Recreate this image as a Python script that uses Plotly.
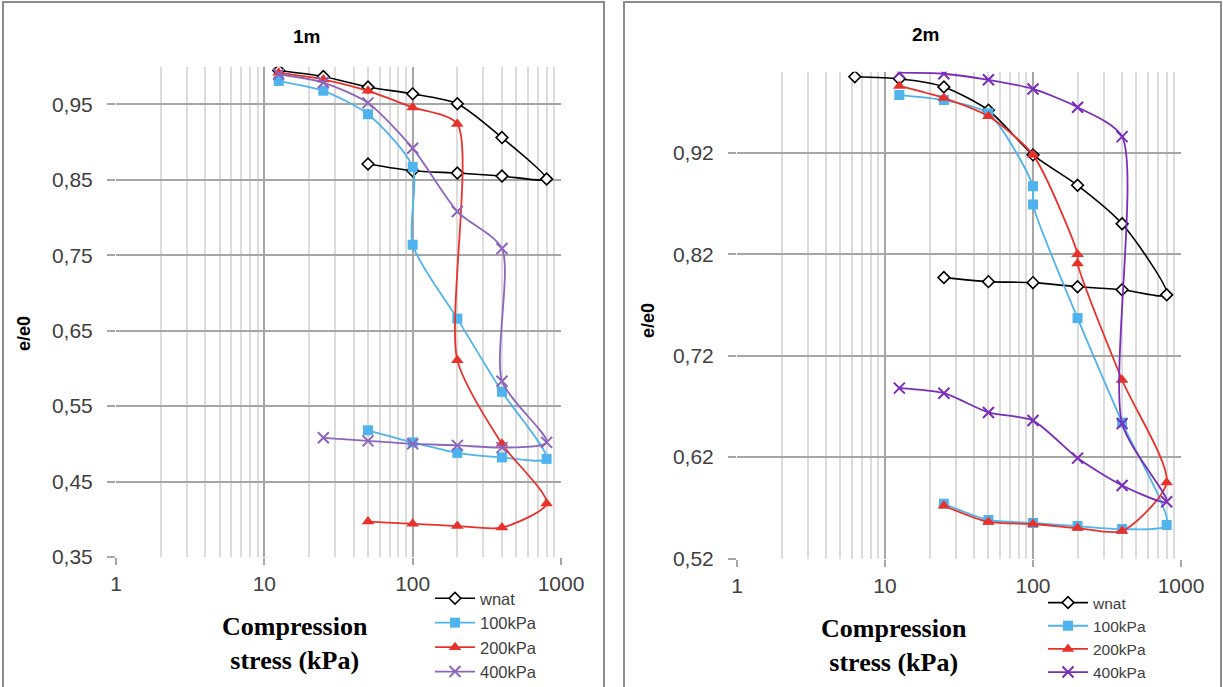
import plotly.graph_objects as go

# ---------------- data ----------------
# 1m panel
stress_wnat_1m = [12.5, 25, 50, 100, 200, 400, 800, 400, 200, 100, 50]
e_wnat_1m = [0.995, 0.987, 0.973, 0.964, 0.951, 0.906, 0.851, 0.855, 0.859, 0.862, 0.871]

stress_100_1m = [12.5, 25, 50, 100, 100, 200, 400, 800, 400, 200, 100, 50]
e_100_1m = [0.981, 0.968, 0.937, 0.867, 0.764, 0.666, 0.569, 0.480, 0.482, 0.488, 0.502, 0.518]

stress_200_1m = [12.5, 25, 50, 100, 200, 200, 400, 800, 400, 200, 100, 50]
e_200_1m = [0.992, 0.983, 0.968, 0.946, 0.924, 0.611, 0.500, 0.421, 0.389, 0.391, 0.394, 0.397]

stress_400_1m = [12.5, 25, 50, 100, 200, 400, 400, 800, 400, 200, 100, 50, 25]
e_400_1m = [0.990, 0.979, 0.952, 0.892, 0.808, 0.759, 0.583, 0.502, 0.495, 0.498, 0.500, 0.504, 0.508]

# 2m panel
stress_wnat_2m = [6.25, 12.5, 25, 50, 100, 200, 400, 800, 400, 200, 100, 50, 25]
e_wnat_2m = [0.995, 0.993, 0.985, 0.962, 0.918, 0.888, 0.850, 0.780, 0.785, 0.788, 0.792, 0.793, 0.797]

stress_100_2m = [12.5, 25, 50, 100, 100, 200, 400, 800, 400, 200, 100, 50, 25]
e_100_2m = [0.977, 0.972, 0.959, 0.887, 0.869, 0.757, 0.654, 0.553, 0.549, 0.552, 0.555, 0.558, 0.574]

stress_200_2m = [12.5, 25, 50, 100, 200, 200, 400, 800, 400, 200, 100, 50, 25]
e_200_2m = [0.986, 0.974, 0.956, 0.918, 0.820, 0.811, 0.696, 0.595, 0.547, 0.550, 0.554, 0.556, 0.572]

stress_400_2m = [12.5, 25, 50, 100, 200, 400, 400, 800, 400, 200, 100, 50, 25, 12.5]
e_400_2m = [0.999, 0.998, 0.992, 0.983, 0.965, 0.936, 0.653, 0.576, 0.592, 0.619, 0.656, 0.664, 0.683, 0.688]

series_names = ["wnat", "100kPa", "200kPa", "400kPa"]
panel_titles = ["1m", "2m"]
x_tickvals = [1, 10, 100, 1000]
x_ticktext = ["1", "10", "100", "1000"]
y_tickvals_1m = [0.35, 0.45, 0.55, 0.65, 0.75, 0.85, 0.95]
y_ticktext_1m = ["0,35", "0,45", "0,55", "0,65", "0,75", "0,85", "0,95"]
y_tickvals_2m = [0.52, 0.62, 0.72, 0.82, 0.92]
y_ticktext_2m = ["0,52", "0,62", "0,72", "0,82", "0,92"]
y_title = "e/e0"
x_title = "Compression<br>stress (kPa)"

# ---------------- layout helpers ----------------
W, H = 1223, 687
def px(x):
    return x / W
def py(y):
    return 1 - y / H

SANS = "Liberation Sans, Arial, sans-serif"
SERIF = "Liberation Serif, Times New Roman, serif"
BLACK = "#000000"
BLUE = "#4FB3EE"
RED = "#E8312A"
PURPLE_1 = "#8C66BC"
PURPLE_2 = "#7A2DB8"

def styles(purple):
    return [
        dict(line=dict(color=BLACK, width=1.6),
             marker=dict(symbol="diamond", size=9, color="white", line=dict(color=BLACK, width=1.6))),
        dict(line=dict(color=BLUE, width=1.8),
             marker=dict(symbol="square", size=10, color=BLUE, line=dict(width=0))),
        dict(line=dict(color=RED, width=1.8),
             marker=dict(symbol="triangle-up", size=11, color=RED, line=dict(width=0))),
        dict(line=dict(color=purple, width=1.8),
             marker=dict(symbol="x-thin", size=11, color=purple, line=dict(color=purple, width=2))),
    ]

fig = go.Figure()

panels = [
    ("x", "y", "legend", [(stress_wnat_1m, e_wnat_1m), (stress_100_1m, e_100_1m),
                          (stress_200_1m, e_200_1m), (stress_400_1m, e_400_1m)], PURPLE_1),
    ("x2", "y2", "legend2", [(stress_wnat_2m, e_wnat_2m), (stress_100_2m, e_100_2m),
                             (stress_200_2m, e_200_2m), (stress_400_2m, e_400_2m)], PURPLE_2),
]

for xa, ya, lg, data, purple in panels:
    for name, (xs, ys), st in zip(series_names, data, styles(purple)):
        fig.add_trace(go.Scatter(
            x=xs, y=ys, name=name, mode="lines+markers",
            line=dict(shape="spline", smoothing=0.7, **st["line"]),
            marker=st["marker"], xaxis=xa, yaxis=ya, legend=lg,
        ))

GRID_MAJOR = "#A6A6A6"
GRID_MINOR = "#DCDCDC"
TICKFONT = dict(family=SANS, size=21, color="#404040")

def xaxis_cfg(domain, anchor):
    return dict(
        type="log", range=[0, 3], domain=domain, anchor=anchor, automargin=False,
        tickvals=x_tickvals, ticktext=x_ticktext, tickfont=TICKFONT,
        showgrid=True, gridcolor=GRID_MAJOR, gridwidth=1.5,
        minor=dict(dtick="D1", showgrid=True, gridcolor=GRID_MINOR, gridwidth=1.5, ticks=""),
        ticks="outside", ticklen=7, tickcolor=GRID_MAJOR, tickwidth=1.5,
        showline=False, zeroline=False, ticklabelstandoff=1,
    )

def yaxis_cfg(domain, anchor, rng, tv, tt):
    return dict(
        range=rng, domain=domain, anchor=anchor, automargin=False,
        tickvals=tv, ticktext=tt, tickfont=TICKFONT,
        showgrid=True, gridcolor=GRID_MAJOR, gridwidth=1.5,
        ticks="outside", ticklen=8, tickcolor=GRID_MAJOR, tickwidth=1.5,
        showline=False, zeroline=False, ticklabelstandoff=10,
    )

fig.update_layout(
    width=W, height=H,
    margin=dict(l=0, r=0, t=0, b=0, autoexpand=False),
    paper_bgcolor="white", plot_bgcolor="white",
    font=dict(family=SANS, color="#404040"),
    xaxis=xaxis_cfg([px(116), px(561)], "y"),
    yaxis=yaxis_cfg([py(557), py(66.7)], "x", [0.35, 1.0], y_tickvals_1m, y_ticktext_1m),
    xaxis2=xaxis_cfg([px(737), px(1181)], "y2"),
    yaxis2=yaxis_cfg([py(558.5), py(71.7)], "x2", [0.52, 1.0], y_tickvals_2m, y_ticktext_2m),
    legend=dict(x=px(430), y=py(581), xanchor="left", yanchor="top",
                bgcolor="rgba(0,0,0,0)", font=dict(family=SANS, size=16.5, color="#404040"),
                tracegroupgap=0, itemwidth=40),
    legend2=dict(x=px(1043), y=py(586), xanchor="left", yanchor="top",
                 bgcolor="rgba(0,0,0,0)", font=dict(family=SANS, size=15.5, color="#404040"),
                 tracegroupgap=0, itemwidth=40),
    showlegend=True,
)

annotations = [
    dict(text="<b>%s</b>" % panel_titles[0], x=px(306), y=py(36), font=dict(family=SANS, size=19, color="#000")),
    dict(text="<b>%s</b>" % panel_titles[1], x=px(925), y=py(35), font=dict(family=SANS, size=19, color="#000")),
    dict(text="<b>%s</b>" % y_title, x=px(24), y=py(334), textangle=-90, font=dict(family=SANS, size=18, color="#000")),
    dict(text="<b>%s</b>" % y_title, x=px(648), y=py(321), textangle=-90, font=dict(family=SANS, size=18, color="#000")),
    dict(text="<b>%s</b>" % x_title, x=px(295), y=py(643), font=dict(family=SERIF, size=26, color="#000")),
    dict(text="<b>%s</b>" % x_title, x=px(894), y=py(645), font=dict(family=SERIF, size=26, color="#000")),
]
for a in annotations:
    a.update(xref="paper", yref="paper", showarrow=False, xanchor="center", yanchor="middle")
fig.update_layout(annotations=annotations)

def frame(x0, x1, ytop, ybot):
    # open frame: left, top, right edges (no bottom edge)
    return dict(type="path", xref="paper", yref="paper",
                path="M %f,%f L %f,%f L %f,%f L %f,%f" % (px(x0), py(ybot), px(x0), py(ytop),
                                                          px(x1), py(ytop), px(x1), py(ybot)),
                line=dict(color="#8C8C8C", width=2), layer="below")

fig.update_layout(shapes=[
    frame(3, 604, 2, 690),
    frame(624, 1221, 2, 690),
])

post = (
    "var d=document.getElementById('{plot_id}');"
    "d.style.position='fixed';d.style.left='0px';d.style.top='0px';"
    "document.documentElement.style.margin='0';document.body.style.margin='0';"
    "document.documentElement.style.overflow='hidden';document.body.style.overflow='hidden';"
)

fig.write_html(
    "out.html",
    config={"displayModeBar": False, "responsive": False},
    post_script=post,
)
